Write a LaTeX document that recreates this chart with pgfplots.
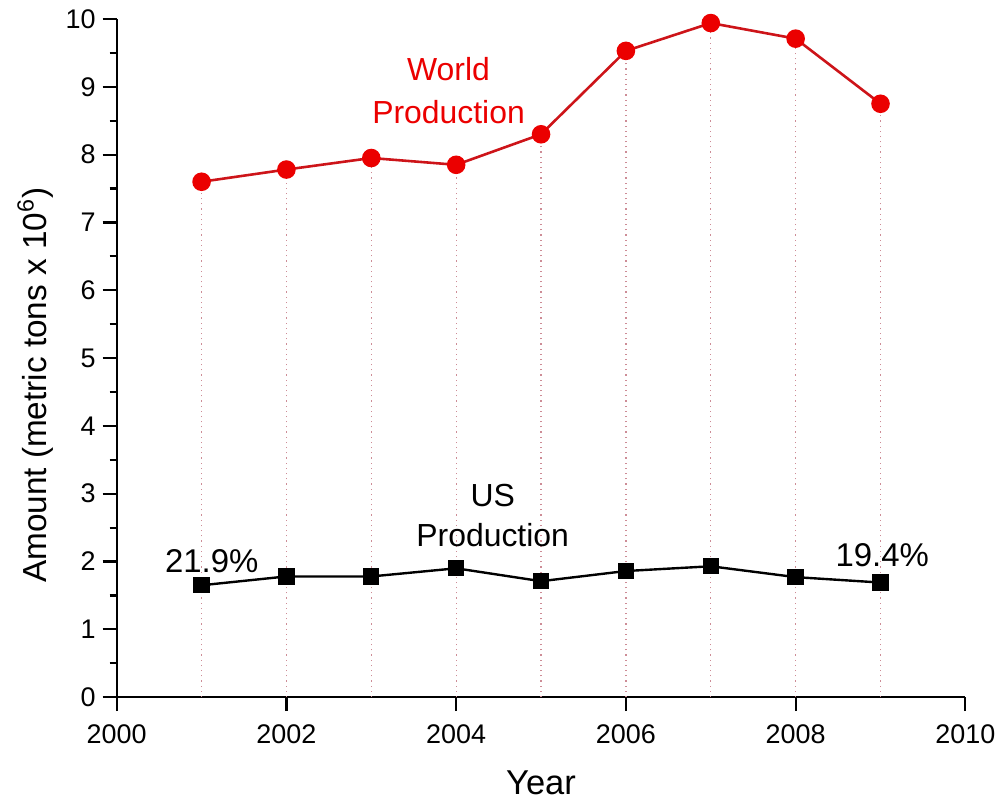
\documentclass[border=0pt]{standalone}
\usepackage{pgfplots}
\pgfplotsset{compat=1.18}
\usepackage{fontspec}
\setmainfont{Liberation Sans}

\definecolor{worldred}{RGB}{235,0,0}
\definecolor{worldline}{RGB}{205,20,25}
\definecolor{dropline}{RGB}{205,140,150}

\begin{document}
\begin{tikzpicture}
\begin{axis}[
  scale only axis,
  width=425.5pt, height=340pt,
  xmin=2000, xmax=2010,
  ymin=0, ymax=10,
  axis x line*=bottom,
  axis y line*=left,
  axis line style={line width=1.1pt, black},
  xtick={2000,2002,...,2010},
  ytick={0,1,...,10},
  minor x tick num=1,
  minor y tick num=1,
  tick align=outside,
  major tick length=7pt,
  minor tick length=3.5pt,
  every tick/.style={line width=1.1pt, black},
  /pgf/number format/1000 sep={},
  /pgf/number format/assume math mode=true,
  ticklabel style={font=\fontsize{13.5}{15}\selectfont},
  xticklabel style={yshift=-3.5pt},
  xlabel={Year},
  ylabel={Amount (metric tons x 10\textsuperscript{6})},
  every axis x label/.style={at={(rel axis cs:0.5,-0.127)}, anchor=center, font=\fontsize{17.3}{20}\selectfont},
  every axis y label/.style={at={(rel axis cs:-0.096,0.46)}, rotate=90, anchor=center, font=\fontsize{16.7}{19}\selectfont},
  clip=false,
]
% page frame
\path (rel axis cs:-0.1375,-0.153) rectangle (rel axis cs:1.04,1.028);

% dotted drop lines from each world-production point
\addplot[ycomb, dotted, line width=0.6pt, color=dropline, mark=none] coordinates {
  (2001,7.60) (2002,7.78) (2003,7.95) (2004,7.85) (2005,8.30)
  (2006,9.53) (2007,9.94) (2008,9.71) (2009,8.75)
};

% world production
\addplot[color=worldline, line width=1.3pt, mark=*, mark size=4pt,
  mark options={fill=worldred, draw=worldred}] coordinates {
  (2001,7.60) (2002,7.78) (2003,7.95) (2004,7.85) (2005,8.30)
  (2006,9.53) (2007,9.94) (2008,9.71) (2009,8.75)
};

% US production
\addplot[color=black, line width=1.2pt, mark=square*, mark size=3.5pt,
  mark options={fill=black}] coordinates {
  (2001,1.65) (2002,1.78) (2003,1.78) (2004,1.90) (2005,1.71)
  (2006,1.86) (2007,1.93) (2008,1.77) (2009,1.69)
};

\node[align=center, text=worldred, font=\fontsize{16}{21.5}\selectfont]
  at (axis cs:2003.91,8.94) {World\\Production};
\node[align=center, font=\fontsize{16}{20}\selectfont]
  at (axis cs:2004.43,2.68) {US\\Production};
\node[font=\fontsize{16.5}{18}\selectfont] at (axis cs:2001.12,2.0) {21.9\%};
\node[font=\fontsize{16.5}{18}\selectfont] at (axis cs:2009.02,2.10) {19.4\%};
\end{axis}
\end{tikzpicture}
\end{document}
